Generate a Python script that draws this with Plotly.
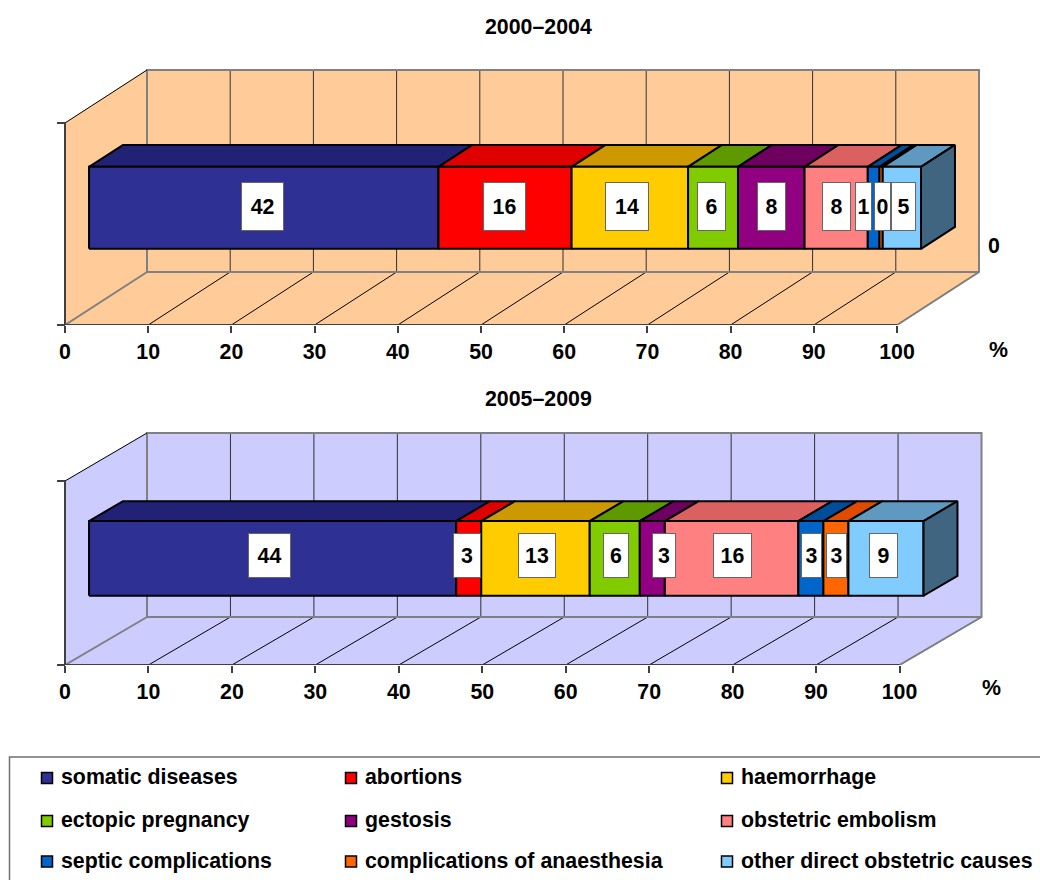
import plotly.graph_objects as go

# Causes of maternal death, share in percent per period
categories = [
    "somatic diseases", "abortions", "haemorrhage",
    "ectopic pregnancy", "gestosis", "obstetric embolism",
    "septic complications", "complications of anaesthesia", "other direct obstetric causes",
]
period_titles = ["2000–2004", "2005–2009"]
values_2000_2004 = [42, 16, 14, 6, 8, 7.6, 1.4, 0.4, 4.6]
values_2005_2009 = [44, 3, 13, 6, 3, 16, 3, 3, 9]
axis_ticks = [0, 10, 20, 30, 40, 50, 60, 70, 80, 90, 100]

front_colors = ["#2E3094", "#FF0000", "#FFCC00", "#80CC00", "#910080",
                "#FF8080", "#0066CC", "#FF6600", "#80CCFF"]
top_colors = ["#212175", "#DF0000", "#CC9900", "#5F9900", "#6E0060",
              "#DB6060", "#004D99", "#DF4C00", "#5F99BF"]
side_color = "#3F6580"

FONT = "Liberation Sans"
FONT_SIZE = 21.33
W, H = 1040, 880
BAR_H = (0.3, 0.706)
BAR_D = (0.293, 0.707)

panels = [
    dict(values=values_2000_2004, wall="#FFCC99", x0=65, scale=8.32, floor=325, wall_h=202,
         dx=82, dy=53, top=50, title_y=27, pct=(998, 350), tag="",
         box_w=[41, 41, 42, 27, 27, 27, 15, 15, 23], box_h=47, yshift=1,
         nudge=[-1, -1, -3, -2, 0, 0, -10, 1, 2]),
    dict(values=values_2005_2009, wall="#CCCCFF", x0=65, scale=8.345, floor=665, wall_h=184,
         dx=82, dy=48, top=420, title_y=399, pct=(991, 688), tag="2",
         box_w=[41, 26, 36, 24, 22, 37, 19, 19, 27], box_h=43, yshift=3,
         nudge=[-3, -2, 2, 1, 12, 1, 1, 1, -2]),
]

fig = go.Figure()
annotations = []


def label(text, x, y, size=FONT_SIZE, anchor="center"):
    annotations.append(dict(text=f"<b>{text}</b>", x=x / W, y=1 - y / H, xref="paper", yref="paper",
                            xanchor=anchor, yanchor="middle", showarrow=False,
                            font=dict(family=FONT, size=size, color="black")))


for p in panels:
    ax_x, ax_y = f"x{p['tag']}", f"y{p['tag']}"
    depth_x = p["dx"] / p["scale"]
    depth_y = p["dy"] / p["wall_h"]

    def proj(value, height, depth):
        # Oblique projection of (value, height, depth) onto the flat axes
        return value + depth * depth_x, height + depth * depth_y

    def poly(corners, fill=None, line="black", width=2):
        pts = [proj(*c) for c in corners]
        fig.add_trace(go.Scatter(
            x=[q[0] for q in pts], y=[q[1] for q in pts], xaxis=ax_x, yaxis=ax_y,
            mode="lines", fill="toself" if fill else "none", fillcolor=fill,
            line=dict(color=line, width=width), hoverinfo="skip", showlegend=False))

    wall = p["wall"]
    # Room: left wall, back wall and floor
    poly([(0, 0, 0), (0, 1, 0), (0, 1, 1), (0, 0, 1), (0, 0, 0)], fill=wall, line=wall, width=1)
    poly([(0, 0, 1), (0, 1, 1), (100, 1, 1), (100, 0, 1), (0, 0, 1)], fill=wall, line=wall, width=1)
    poly([(0, 0, 0), (100, 0, 0), (100, 0, 1), (0, 0, 1), (0, 0, 0)], fill=wall, line=wall, width=1)
    for v in axis_ticks[1:]:
        poly([(v, 0, 0), (v, 0, 1)], width=1)
        if v < 100:
            poly([(v, 0, 1), (v, 1, 1)], line="#303030", width=1)
    poly([(0, 0, 0), (0, 0, 1), (0, 1, 1), (100, 1, 1), (100, 0, 1), (100, 0, 0)], line="#808080", width=2)
    poly([(0, 0, 1), (100, 0, 1)], line="#808080", width=2)
    poly([(0, 1, 0), (0, 1, 1)], width=1)
    poly([(0, 0, 0), (0, 1, 0)], line="#404040", width=2)
    poly([(0, 0, 0), (100, 0, 0)], line="#404040", width=2)

    # Stacked bar: top faces and front faces from the cumulative values
    h0, h1 = BAR_H
    d0, d1 = BAR_D
    start = 0
    for value, front, top, w, shift in zip(p["values"], front_colors, top_colors, p["box_w"], p["nudge"]):
        end = start + value
        poly([(start, h1, d0), (end, h1, d0), (end, h1, d1), (start, h1, d1), (start, h1, d0)], fill=top)
        poly([(start, h0, d0), (end, h0, d0), (end, h1, d0), (start, h1, d0), (start, h0, d0)], fill=front)
        cx, cy = proj((start + end) / 2, (h0 + h1) / 2, d0)
        annotations.append(dict(
            text=f"<b>{round(value)}</b>", x=cx, y=cy, xref=ax_x, yref=ax_y, showarrow=False,
            xshift=shift, yshift=p["yshift"], width=w, height=p["box_h"], borderpad=0, borderwidth=1,
            bgcolor="white", bordercolor="#666666", align="center", valign="middle",
            font=dict(family=FONT, size=FONT_SIZE, color="black")))
        start = end
    poly([(start, h0, d0), (start, h0, d1), (start, h1, d1), (start, h1, d0), (start, h0, d0)], fill=side_color)

    # Axes are pinned so that value 0 sits at x0 and height 0 on the floor line
    x_range = [-p["x0"] / p["scale"], (W - p["x0"]) / p["scale"]]
    y_range = [0, (p["floor"] - p["top"]) / p["wall_h"]]
    fig.update_layout({
        f"xaxis{p['tag']}": dict(
            domain=[0, 1], range=x_range, anchor=ax_y, tickvals=axis_ticks, ticks="outside", ticklen=7,
            tickwidth=1.5, tickcolor="#404040", showgrid=False, zeroline=False, showline=False,
            tickfont=dict(family=FONT, size=FONT_SIZE, color="black", weight="bold")),
        f"yaxis{p['tag']}": dict(
            domain=[1 - p["floor"] / H, 1 - p["top"] / H], range=y_range, anchor="free",
            position=p["x0"] / W, tickvals=[0, 1], ticktext=["", ""], ticks="outside", ticklen=8,
            tickwidth=1.5, tickcolor="#404040", showgrid=False, zeroline=False, showline=False),
    })

for title, p in zip(period_titles, panels):
    label(title, 538, p["title_y"])
    label("%", *p["pct"])
label("0", 994, 246)

# Key below the charts: frame, swatches and names, filled row by row
key_columns = [47, 351, 727]
key_rows = [778, 821, 861.5]
key_x, key_y, key_color = [], [], []
for i, (name, color) in enumerate(zip(categories, front_colors)):
    cx, cy = key_columns[i % 3], key_rows[i // 3]
    key_x.append(cx)
    key_y.append(cy)
    key_color.append(color)
    label(name, cx + 12, cy - 1, anchor="left")

fig.add_trace(go.Scatter(x=[9.5, 9.5, W], y=[H, 757, 757], xaxis="x3", yaxis="y3", mode="lines",
                         line=dict(color="#707070", width=1.5), hoverinfo="skip", showlegend=False))
fig.add_trace(go.Scatter(x=key_x, y=key_y, xaxis="x3", yaxis="y3", mode="markers", hoverinfo="skip",
                         marker=dict(symbol="square", size=11, color=key_color,
                                     line=dict(color="black", width=1.5)), showlegend=False))
fig.update_layout(
    xaxis3=dict(domain=[0, 1], range=[0, W], anchor="y3", visible=False),
    yaxis3=dict(domain=[0, 1 - 750 / H], range=[H, 750], anchor="x3", visible=False),
    width=W, height=H, margin=dict(l=0, r=0, t=0, b=0),
    paper_bgcolor="white", plot_bgcolor="rgba(0,0,0,0)",
    showlegend=False, annotations=annotations,
)

fig.write_html("out.html")
